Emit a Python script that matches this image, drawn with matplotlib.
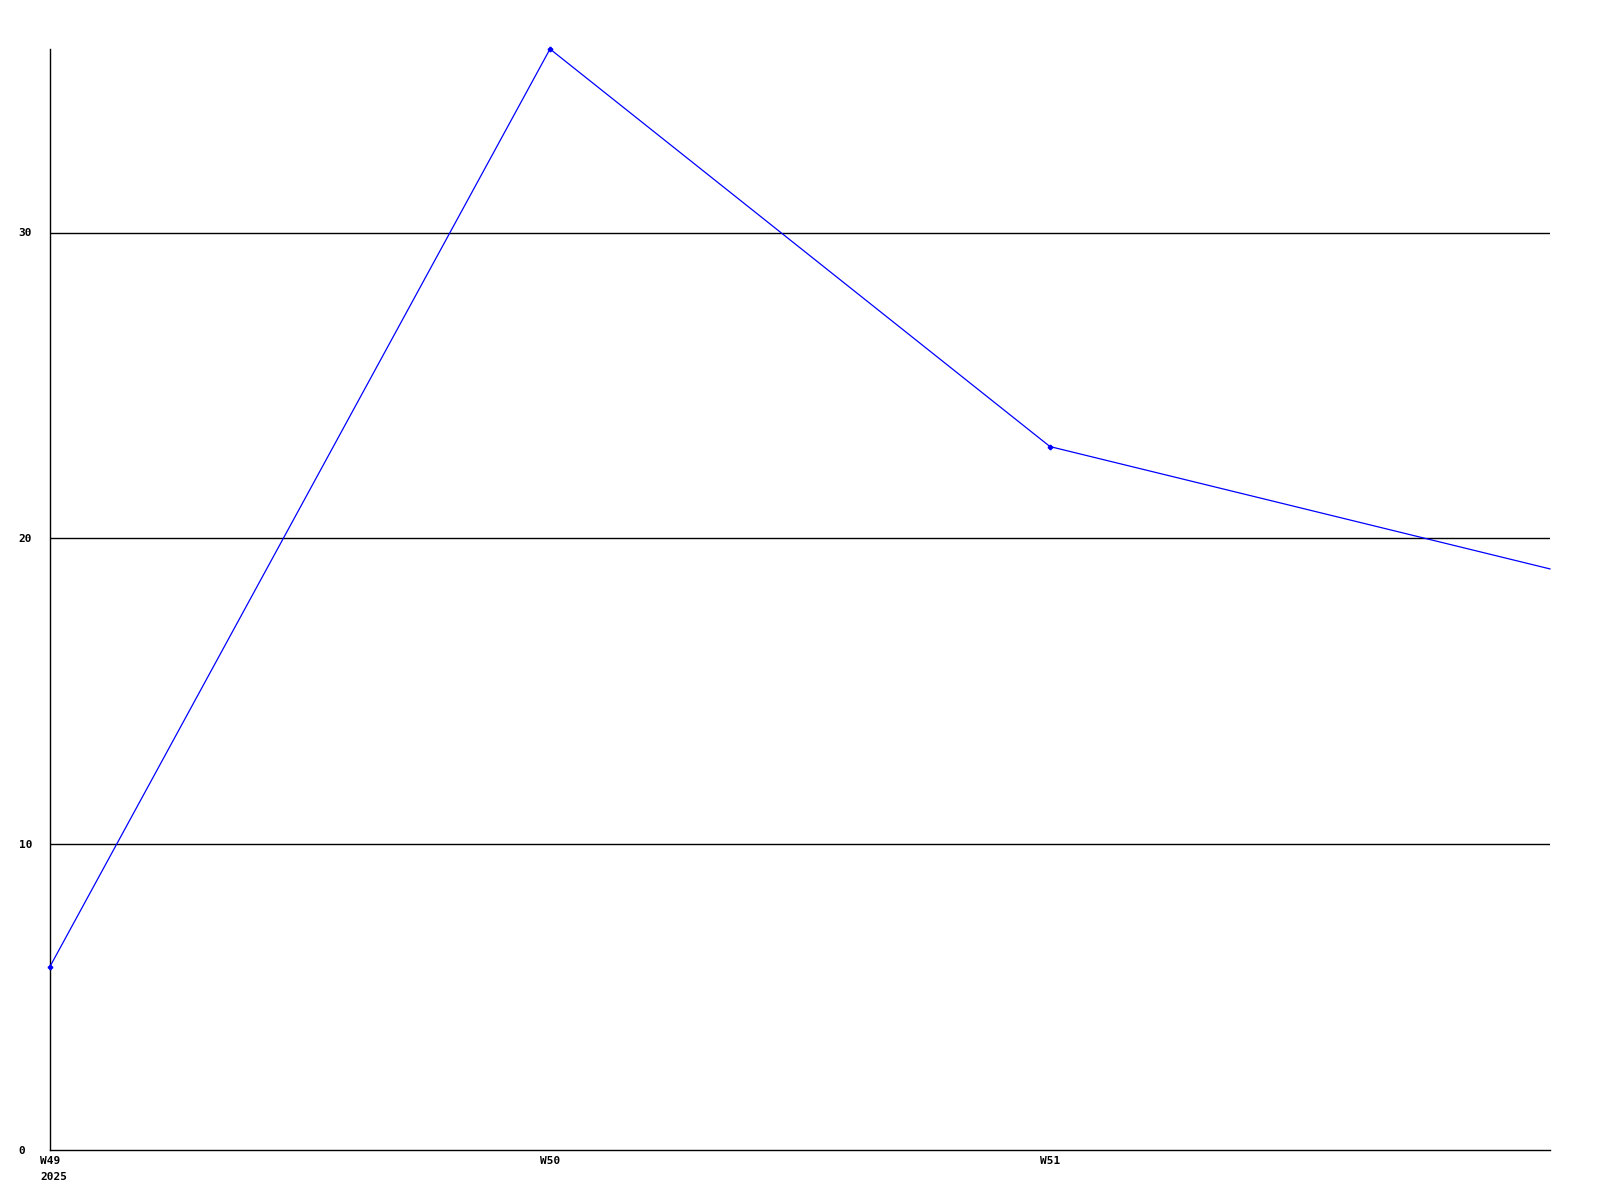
import matplotlib
matplotlib.use("Agg")
import matplotlib.pyplot as plt
import matplotlib.transforms as mtransforms

weeks = [0, 1, 2, 3]
values = [6, 36, 23, 19]
tick_pos = [0, 1, 2]
tick_labels = ["W49\n2025", "W50", "W51"]
y_ticks = [0, 10, 20, 30]

fig = plt.figure(figsize=(16, 12), dpi=100)
ax = fig.add_axes([50 / 1600, 50 / 1200, 1500 / 1600, 1101 / 1200])

for y in y_ticks[1:]:
    ax.axhline(y, color="black", linewidth=1, zorder=1)

ax.plot(weeks, values, color="#0000ff", linewidth=0.9, marker="P", markersize=3,
        markevery=[0, 1, 2], zorder=3, clip_on=False)

ax.set_xlim(0, 3)
ax.set_ylim(0, 36)

for s in ["top", "right"]:
    ax.spines[s].set_visible(False)
for s in ["left", "bottom"]:
    ax.spines[s].set_color("black")
    ax.spines[s].set_linewidth(1)

font = dict(family="DejaVu Sans Mono", weight="bold", size=8)

ax.set_yticks(y_ticks)
ax.set_yticklabels([str(v) for v in y_ticks], **font, ha="left")
ax.tick_params(axis="y", length=0, pad=22.5)

ax.set_xticks(tick_pos)
ax.set_xticklabels(tick_labels, **font, ha="left", va="top", linespacing=1.75)
ax.tick_params(axis="x", length=0, pad=4.5)
offset = mtransforms.ScaledTranslation(-10 / 100, 0, fig.dpi_scale_trans)
for lbl in ax.get_xticklabels():
    lbl.set_transform(lbl.get_transform() + offset)

fig.savefig("out.png", dpi=100, facecolor="white")
